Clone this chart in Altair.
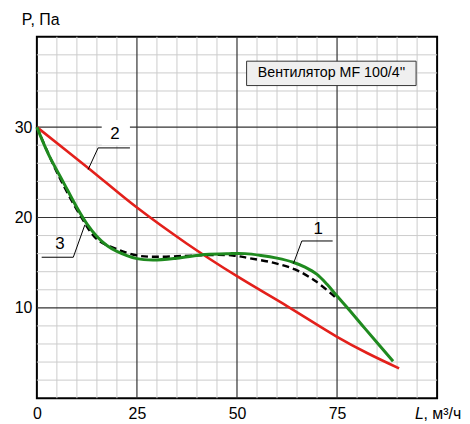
import altair as alt
import pandas as pd

# Curve 1 (green, solid)
green_x = [0, 3, 6.5, 10, 12.5, 15, 17.5, 20, 25, 29, 35, 42, 48, 52, 56, 60, 64, 67, 70, 72.5, 75, 78, 82, 89]
green_y = [30, 26.9, 24.0, 21.1, 19.3, 17.9, 16.9, 16.25, 15.45, 15.3, 15.5, 15.9, 16.0, 16.0, 15.8, 15.5, 15.05, 14.5, 13.7, 12.6, 11.3, 9.8, 7.7, 4.1]

# Curve 3 (black, dashed)
dash_x = [0, 5, 10.75, 15, 20, 25, 30, 37, 43, 49, 53, 59, 64.5, 69.5, 74.5]
dash_y = [30, 25.0, 20.3, 17.6, 16.5, 15.8, 15.65, 15.75, 15.85, 15.8, 15.5, 15.0, 14.25, 13.0, 11.2]

# Curve 2 (red)
red_x = [0, 12.5, 25, 37.5, 50, 62.5, 75, 82.5, 90.5]
red_y = [30, 25.6, 21.1, 17.1, 13.5, 10.2, 6.8, 5.0, 3.3]

x_ticks = [0, 25, 50, 75]
y_ticks = [10, 20, 30]
x_minor = [v for v in range(5, 100, 5) if v % 25 != 0]
y_minor = [v for v in range(2, 40, 2) if v % 10 != 0]

legend_text = "Вентилятор MF 100/4''"
y_title = "P, Па"

# leader lines for labels 1, 2, 3
lead_x = [64.1, 66.2, 73.9, 12.8, 15.3, 23.25, 12.0, 9.1, 1.2]
lead_y = [14.9, 17.4, 17.4, 25.3, 27.7, 27.7, 19.2, 15.6, 15.6]
lead_id = ["1", "1", "1", "2", "2", "2", "3", "3", "3"]
lead_ord = [0, 1, 2, 0, 1, 2, 0, 1, 2]
lab_x = [70.3, 19.5, 5.75]
lab_y = [18.7, 29.2, 17.1]
lab_t = ["1", "2", "3"]

FONT = "Liberation Sans"
xs = alt.Scale(domain=[0, 100], nice=False, zero=False)
ys = alt.Scale(domain=[0, 40], nice=False, zero=False)
xaxis = alt.Axis(values=x_ticks, title=None, grid=False, ticks=False, domain=False,
                 labelFontSize=16, labelFont=FONT, labelColor="black", labelPadding=7, labelFlush=False)
yaxis = alt.Axis(values=y_ticks, title=None, grid=False, ticks=False, domain=False,
                 labelFontSize=16, labelFont=FONT, labelColor="black", labelPadding=5)


def X(f="x:Q"):
    return alt.X(f, scale=xs, axis=xaxis)


def Y(f="y:Q"):
    return alt.Y(f, scale=ys, axis=yaxis)


minor_x = alt.Chart(pd.DataFrame({"x": x_minor})).mark_rule(color="#cccccc", strokeWidth=1).encode(x=X())
minor_y = alt.Chart(pd.DataFrame({"y": y_minor})).mark_rule(color="#cccccc", strokeWidth=1).encode(y=Y())
major_x = alt.Chart(pd.DataFrame({"x": [25, 50, 75]})).mark_rule(color="#333333", strokeWidth=1.2).encode(x=X())
major_y = alt.Chart(pd.DataFrame({"y": y_ticks})).mark_rule(color="#333333", strokeWidth=1.2).encode(y=Y())

# white background behind label "2"
bg2 = alt.Chart(pd.DataFrame({"x": [16.2], "x2": [23.25], "y": [28.0], "y2": [30.8]})).mark_rect(
    color="white").encode(x=X(), x2="x2", y=Y(), y2="y2")

red = alt.Chart(pd.DataFrame({"x": red_x, "y": red_y})).mark_line(
    color="#e3201b", strokeWidth=2.6, interpolate="catmull-rom").encode(x=X(), y=Y())
green = alt.Chart(pd.DataFrame({"x": green_x, "y": green_y})).mark_line(
    color="#1f8a1f", strokeWidth=3, interpolate="catmull-rom").encode(x=X(), y=Y())
dashed = alt.Chart(pd.DataFrame({"x": dash_x, "y": dash_y})).mark_line(
    color="black", strokeWidth=2.4, strokeDash=[7, 4], interpolate="catmull-rom").encode(x=X(), y=Y())

leaders = alt.Chart(pd.DataFrame({"x": lead_x, "y": lead_y, "id": lead_id, "o": lead_ord})).mark_line(
    color="black", strokeWidth=1).encode(x=X(), y=Y(), detail="id:N", order="o:Q")
labels = alt.Chart(pd.DataFrame({"x": lab_x, "y": lab_y, "t": lab_t})).mark_text(
    fontSize=17, font=FONT, color="black").encode(x=X(), y=Y(), text="t:N")

box = alt.Chart(pd.DataFrame({"x": [52.4], "x2": [94.75], "y": [34.6], "y2": [37.3]})).mark_rect(
    fill="#efefef", stroke="#333333", strokeWidth=1).encode(x=X(), x2="x2", y=Y(), y2="y2")
box_text = alt.Chart(pd.DataFrame({"x": [73.6], "y": [35.95], "t": [legend_text]})).mark_text(
    fontSize=14.3, font=FONT, color="black").encode(x=X(), y=Y(), text="t:N")

ytitle = alt.Chart(pd.DataFrame({"x": [-3.75], "y": [41.9], "t": [y_title]})).mark_text(
    fontSize=16, font=FONT, color="black", align="left").encode(x=X(), y=Y(), text="t:N")
xtitle_L = alt.Chart(pd.DataFrame({"x": [94.5], "y": [-1.75], "t": ["L"]})).mark_text(
    fontSize=16, font=FONT, color="black", align="left", fontStyle="italic").encode(x=X(), y=Y(), text="t:N")
xtitle_u = alt.Chart(pd.DataFrame({"x": [96.6], "y": [-1.75], "t": [", м³/ч"]})).mark_text(
    fontSize=16, font=FONT, color="black", align="left").encode(x=X(), y=Y(), text="t:N")

chart = alt.layer(
    minor_x, minor_y, major_x, major_y, bg2, red, dashed, green, leaders, labels, box, box_text,
    ytitle, xtitle_L, xtitle_u
).properties(
    width=402, height=363,
    padding={"left": 29, "top": 28, "right": 25, "bottom": 24},
    autosize=alt.AutoSizeParams(type="none"),
    background="white",
).configure_view(stroke="black", strokeWidth=2)

chart.save("out.html", embed_options={"renderer": "svg", "actions": False})
